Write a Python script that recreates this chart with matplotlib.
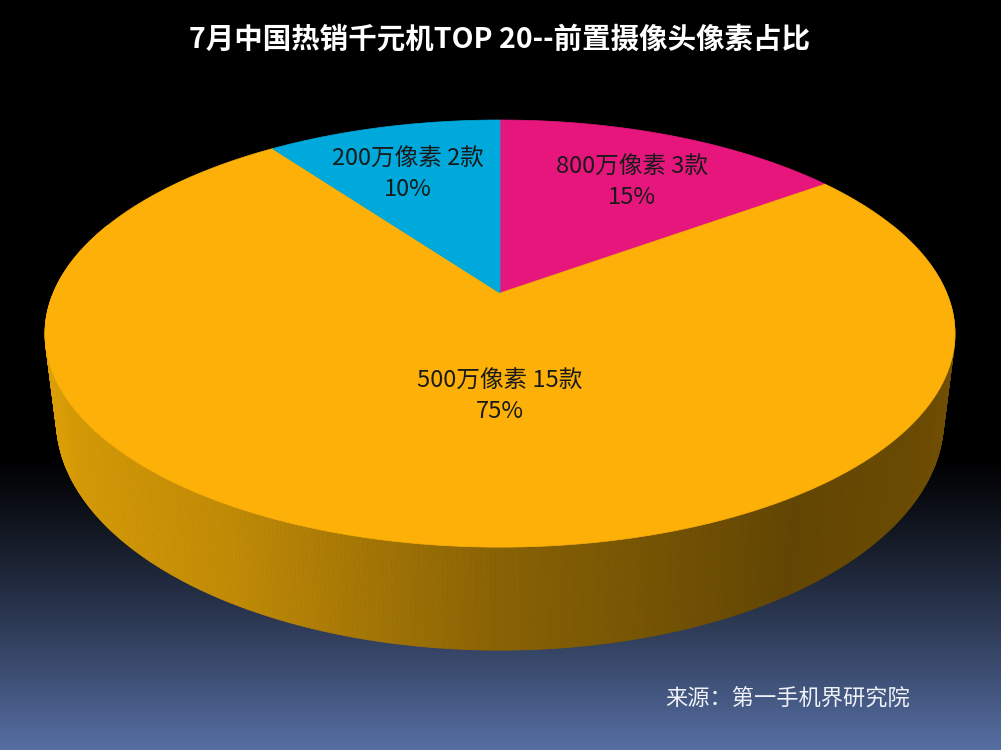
import matplotlib
matplotlib.use("Agg")
import matplotlib.pyplot as plt
from matplotlib.patches import Polygon
import numpy as np

plt.rcParams['font.family'] = ['Noto Sans CJK SC', 'DejaVu Sans']

# data (clockwise from 12 o'clock)
labels = ["800万像素 3款", "500万像素 15款", "200万像素 2款"]
counts = [3, 15, 2]
colors = ["#E6167D", "#FDB108", "#00A9DC"]
title = "7月中国热销千元机TOP 20--前置摄像头像素占比"
source = "来源：第一手机界研究院"

# label text positions in pixels (x, y of the two-line block centre)
label_pos = [(632, 182), (500, 396), (408, 174)]

W, H = 1001, 750
fig = plt.figure(figsize=(W / 100, H / 100), dpi=100)
ax = fig.add_axes([0, 0, 1, 1])
ax.set_xlim(0, W)
ax.set_ylim(H, 0)
ax.axis("off")

# background gradient: black on top, slate blue at the bottom
ys = np.linspace(0, 1, 300)
t = np.clip((ys * H - 455) / (H - 455), 0, 1) ** 1.15
top_c = np.array([0, 0, 0])
bot_c = np.array([86, 110, 162]) / 255
grad = top_c[None, :] * (1 - t[:, None]) + bot_c[None, :] * t[:, None]
ax.imshow(grad[:, None, :], extent=[0, W, H, 0], aspect="auto", zorder=0)

# tilted pie projection (perspective, far side compressed)
CX, A, B, C, G = 500, 446.7, 150.2, 293, -0.19
DROP = 83.4
SHRINK = 0.975


def proj(u, v, drop=0.0, shrink=1.0):
    w = 1 + G * v
    return CX + A * shrink * u / w, (B * v + C + drop) / w


total = sum(counts)
bounds = np.concatenate([[0], np.cumsum(counts) / total * 360])


def slice_color(theta):
    i = np.searchsorted(bounds, theta % 360, side="right") - 1
    return colors[min(i, len(colors) - 1)]


# side of the cylinder, shaded strips
shade_u = [-1.0, -0.5, 0.0, 0.55, 1.0]
shade_f = [0.88, 0.76, 0.54, 0.39, 0.45]
thetas = np.linspace(0, 360, 721)
strips = []
for a0, a1 in zip(thetas[:-1], thetas[1:]):
    r0, r1 = np.radians(a0), np.radians(a1)
    u0, v0 = np.sin(r0), -np.cos(r0)
    u1, v1 = np.sin(r1), -np.cos(r1)
    if (v0 + v1) / 2 < -0.35:
        continue
    pts = [proj(u0, v0), proj(u1, v1),
           proj(u1, v1, DROP, SHRINK), proj(u0, v0, DROP, SHRINK)]
    um = (u0 + u1) / 2
    f = np.interp(um, shade_u, shade_f)
    base = np.array(matplotlib.colors.to_rgb(slice_color((a0 + a1) / 2)))
    col = np.clip(base * f + np.array([0.0, 0.02, 0.0]) * (1 - um) / 2, 0, 1)
    strips.append(((v0 + v1) / 2, pts, col))

strips.sort(key=lambda s: s[0])
for _, pts, col in strips:
    ax.add_patch(Polygon(pts, closed=True, facecolor=col, edgecolor=col,
                         linewidth=0.6, zorder=2))

# top face
for i in range(len(counts)):
    arc = np.radians(np.linspace(bounds[i], bounds[i + 1], 200))
    pts = [proj(0, 0)] + [proj(np.sin(a), -np.cos(a)) for a in arc]
    ax.add_patch(Polygon(pts, closed=True, facecolor=colors[i],
                         edgecolor=colors[i], linewidth=0.5, zorder=3))

# labels
for lab, n, (lx, ly) in zip(labels, counts, label_pos):
    pct = "{:.0f}%".format(n / total * 100)
    ax.text(lx, ly, lab + "\n" + pct, ha="center", va="center",
            multialignment="center", fontsize=17, color="#1a1a1a",
            linespacing=1.4, zorder=4)

ax.text(500, 40, title, ha="center", va="center", fontsize=20.5,
        fontweight="bold", color="white", zorder=4)
ax.text(788, 698, source, ha="center", va="center", fontsize=16,
        color="#eef1f7", zorder=4)

fig.savefig("out.png", dpi=100)
